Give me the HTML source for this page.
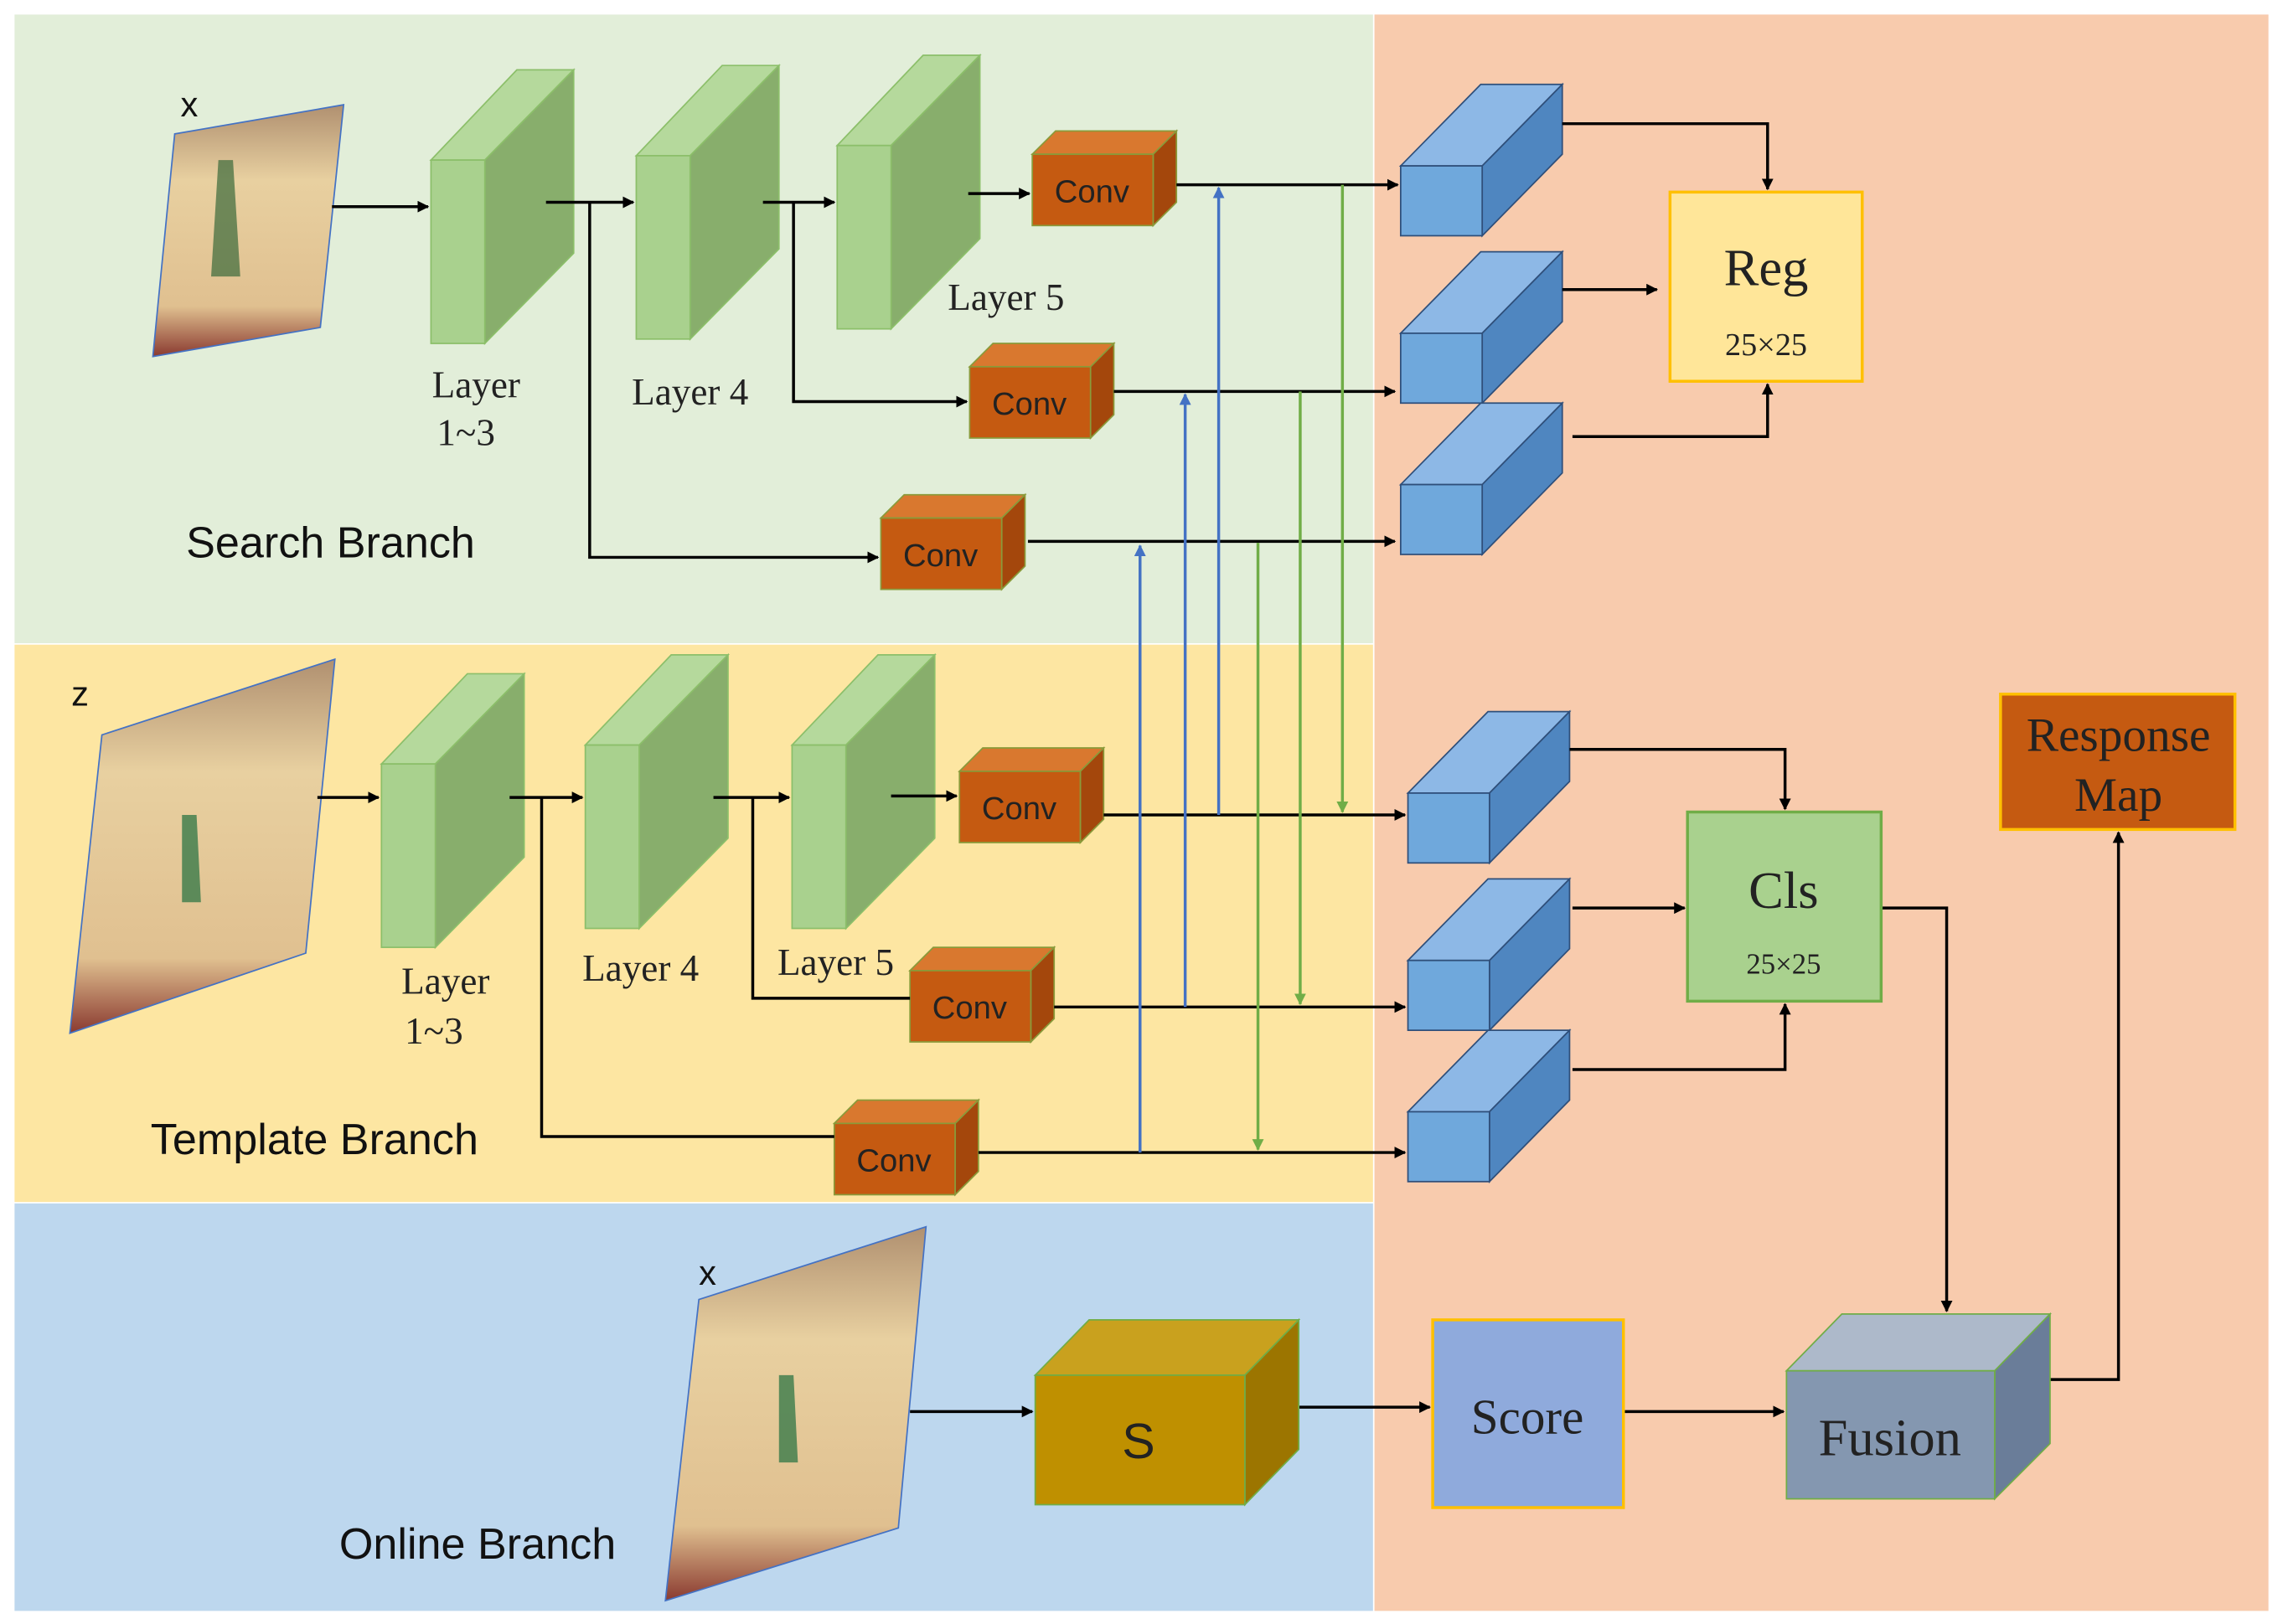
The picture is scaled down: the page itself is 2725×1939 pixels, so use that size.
<!DOCTYPE html>
<html><head><style>html,body{margin:0;padding:0;background:#fff}svg{display:block}</style></head><body>
<svg width="2725" height="1939" viewBox="0 0 1568 1116" preserveAspectRatio="none" xmlns="http://www.w3.org/2000/svg">
<defs>
<marker id="a" viewBox="0 0 10 10" refX="9" refY="5" markerWidth="4" markerHeight="4" orient="auto"><path d="M0,0L10,5L0,10z" fill="#000"/></marker>
<marker id="ab" viewBox="0 0 10 10" refX="9" refY="5" markerWidth="4" markerHeight="4" orient="auto"><path d="M0,0L10,5L0,10z" fill="#4472c4"/></marker>
<marker id="ag" viewBox="0 0 10 10" refX="9" refY="5" markerWidth="4" markerHeight="4" orient="auto"><path d="M0,0L10,5L0,10z" fill="#70ad47"/></marker>
<linearGradient id="img" x1="0" y1="0" x2="0" y2="1"><stop offset="0" stop-color="#b09070"/><stop offset="0.3" stop-color="#e8d0a0"/><stop offset="0.8" stop-color="#e0c090"/><stop offset="1" stop-color="#8a3a30"/></linearGradient>
<g id="L" stroke="#8cbf6a" stroke-width="1"><polygon points="0,0 37,0 98,-62 59,-62" fill="#b5d99c"/><polygon points="37,0 98,-62 98,64 37,126" fill="#88ae6c"/><rect x="0" y="0" width="37" height="126" fill="#a9d18e"/></g>
<g id="C"><polygon points="0,0 83,0 99,-16 16,-16" fill="#d9782f" stroke="#8a9a3a" stroke-width="1"/><polygon points="83,0 99,-16 99,33 83,49" fill="#a4470c" stroke="#8a9a3a" stroke-width="1"/><rect x="0" y="0" width="83" height="49" fill="#c55a11" stroke="#8a9a3a" stroke-width="1"/><text x="41" y="33" font-family="Liberation Sans, sans-serif" font-size="22" fill="#222" text-anchor="middle">Conv</text></g>
<g id="B"><polygon points="0,0 56,0 111,-56 55,-56" fill="#8db8e6" stroke="#2f4f7a" stroke-width="1"/><polygon points="56,0 111,-56 111,-8 56,48" fill="#4f86c0" stroke="#2f4f7a" stroke-width="1"/><rect x="0" y="0" width="56" height="48" fill="#6fa8dc" stroke="#2f4f7a" stroke-width="1"/></g>
</defs>
<rect x="10" y="10" width="933" height="432" fill="#e2eed9"/>
<rect x="10" y="443" width="933" height="383" fill="#fde6a2"/>
<rect x="10" y="827" width="933" height="280" fill="#bdd7ee"/>
<rect x="944" y="10" width="614" height="1097" fill="#f8cbad"/>

<polygon points="120,92 236,72 220,225 105,245" fill="url(#img)" stroke="#4472c4" stroke-width="1"/>
<path d="M150,110 l10,0 l5,80 l-20,0z" fill="#3a6a3a" opacity="0.7"/>
<polygon points="70,505 230,453 210,655 48,710" fill="url(#img)" stroke="#4472c4" stroke-width="1"/>
<path d="M125,560 l10,0 l3,60 l-13,0z" fill="#3a7a4a" opacity="0.8"/>
<polygon points="480,893 636,843 617,1050 457,1100" fill="url(#img)" stroke="#4472c4" stroke-width="1"/>
<path d="M535,945 l10,0 l3,60 l-13,0z" fill="#3a7a4a" opacity="0.8"/>

<g font-family="Liberation Sans, sans-serif" font-size="24" fill="#111">
<text x="124" y="80">x</text><text x="49" y="485">z</text><text x="480" y="883">x</text>
<text x="227" y="383" text-anchor="middle" font-size="30">Search Branch</text>
<text x="216" y="793" text-anchor="middle" font-size="30">Template Branch</text>
<text x="328" y="1071" text-anchor="middle" font-size="30">Online Branch</text>
</g>

<use href="#L" x="296" y="110"/><use href="#L" x="437" y="107"/><use href="#L" x="575" y="100"/>
<use href="#L" x="262" y="525"/><use href="#L" x="402" y="512"/><use href="#L" x="544" y="512"/>

<g font-family="Liberation Serif, serif" font-size="26" fill="#222" text-anchor="middle">
<text x="327" y="273">Layer</text><text x="320" y="306">1~3</text>
<text x="474" y="278">Layer 4</text><text x="691" y="213">Layer 5</text>
<text x="306" y="683">Layer</text><text x="298" y="717">1~3</text>
<text x="440" y="674">Layer 4</text><text x="574" y="670">Layer 5</text>
</g>

<use href="#C" x="709" y="106"/><use href="#C" x="666" y="252"/><use href="#C" x="605" y="356"/>
<use href="#C" x="659" y="530"/><use href="#C" x="625" y="667"/><use href="#C" x="573" y="772"/>
<use href="#B" x="962" y="114"/><use href="#B" x="962" y="229"/><use href="#B" x="962" y="333"/>
<use href="#B" x="967" y="545"/><use href="#B" x="967" y="660"/><use href="#B" x="967" y="764"/>

<g stroke="#000" stroke-width="2" fill="none">
<path d="M228,142H294" marker-end="url(#a)"/>
<path d="M375,139H435" marker-end="url(#a)"/><path d="M405,139V383H603" marker-end="url(#a)"/>
<path d="M524,139H573" marker-end="url(#a)"/><path d="M545,139V276H664" marker-end="url(#a)"/>
<path d="M665,133H707" marker-end="url(#a)"/>
<path d="M808,127H960" marker-end="url(#a)"/>
<path d="M765,269H958" marker-end="url(#a)"/>
<path d="M706,372H958" marker-end="url(#a)"/>
<path d="M218,548H260" marker-end="url(#a)"/>
<path d="M350,548H400" marker-end="url(#a)"/><path d="M372,548V781H573"/>
<path d="M490,548H542" marker-end="url(#a)"/><path d="M517,548V686H625"/>
<path d="M612,547H657" marker-end="url(#a)"/>
<path d="M758,560H965" marker-end="url(#a)"/>
<path d="M724,692H965" marker-end="url(#a)"/>
<path d="M672,792H965" marker-end="url(#a)"/>
<path d="M1073,85H1214V130" marker-end="url(#a)"/>
<path d="M1073,199H1138" marker-end="url(#a)"/>
<path d="M1080,300H1214V264" marker-end="url(#a)"/>
<path d="M1078,515H1226V556" marker-end="url(#a)"/>
<path d="M1080,624H1157" marker-end="url(#a)"/>
<path d="M1080,735H1226V690" marker-end="url(#a)"/>
<path d="M1292,624H1337V901" marker-end="url(#a)"/>
<path d="M1408,948H1455V572" marker-end="url(#a)"/>
<path d="M1115,970H1225" marker-end="url(#a)"/>
<path d="M880,967H982" marker-end="url(#a)"/>
<path d="M625,970H709" marker-end="url(#a)"/>
</g>
<g stroke="#4472c4" stroke-width="2" fill="none">
<path d="M837,560V129" marker-end="url(#ab)"/><path d="M814,692V271" marker-end="url(#ab)"/><path d="M783,792V375" marker-end="url(#ab)"/>
</g>
<g stroke="#70ad47" stroke-width="2" fill="none">
<path d="M922,127V558" marker-end="url(#ag)"/><path d="M893,269V690" marker-end="url(#ag)"/><path d="M864,373V790" marker-end="url(#ag)"/>
</g>

<g font-family="Liberation Serif, serif" text-anchor="middle" fill="#222">
<rect x="1147" y="132" width="132" height="130" fill="#ffe699" stroke="#ffc000" stroke-width="2"/>
<text x="1213" y="196" font-size="36">Reg</text><text x="1213" y="244" font-size="22">25×25</text>
<rect x="1159" y="558" width="133" height="130" fill="#a9d18e" stroke="#70ad47" stroke-width="2"/>
<text x="1225" y="624" font-size="36">Cls</text><text x="1225" y="669" font-size="20">25×25</text>
<rect x="1374" y="477" width="161" height="93" fill="#c55a11" stroke="#ffc000" stroke-width="2"/>
<text x="1455" y="516" font-size="33">Response</text><text x="1455" y="557" font-size="33">Map</text>
<rect x="984" y="907" width="131" height="129" fill="#8faadc" stroke="#ffc000" stroke-width="2"/>
<text x="1049" y="985" font-size="34">Score</text>
<polygon points="1227,942 1370,942 1408,903 1265,903" fill="#adb9ca" stroke="#70ad47"/>
<polygon points="1370,942 1408,903 1408,992 1370,1030" fill="#6a7d99" stroke="#70ad47"/>
<rect x="1227" y="942" width="143" height="88" fill="#8497b0" stroke="#70ad47"/>
<text x="1298" y="1000" font-size="36">Fusion</text>
<polygon points="711,945 855,945 892,907 748,907" fill="#c9a11e" stroke="#70ad47"/>
<polygon points="855,945 892,907 892,996 855,1034" fill="#9c7500" stroke="#70ad47"/>
<rect x="711" y="945" width="144" height="89" fill="#bf9000" stroke="#70ad47"/>
<text x="782" y="1002" font-size="34" font-family="Liberation Sans, sans-serif">S</text>
</g>
</svg>
</body></html>
